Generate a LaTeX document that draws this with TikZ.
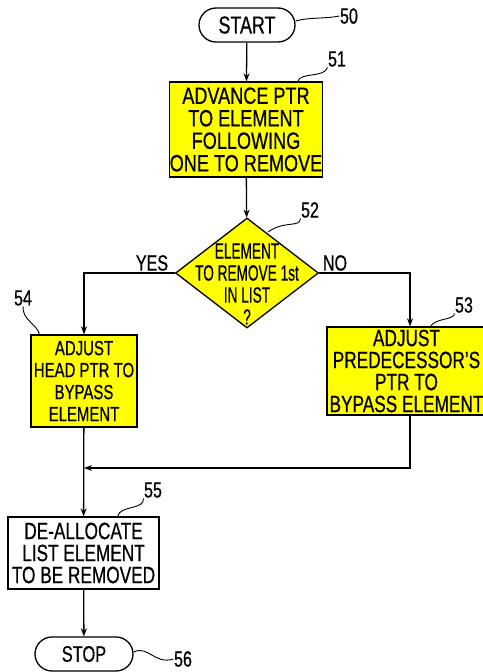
\documentclass[tikz,border=0pt]{standalone}
\usepackage{fontspec}
\setmainfont{Liberation Sans}[FakeStretch=0.73,FakeBold=0.6]
\newfontfamily\diafont{Liberation Sans}[FakeStretch=0.62,FakeBold=0.6]
\newfontfamily\widefont{Liberation Sans}[FakeStretch=0.77,FakeBold=0.6]
\usepackage{tikz}
\usetikzlibrary{arrows.meta,shapes.geometric,shapes.misc}
\definecolor{hilite}{HTML}{FFFF00}
\newcommand\flowsize[1]{\fontsize{#1}{22}\selectfont}

\begin{document}
\begin{tikzpicture}[x=1pt,y=-1pt,line width=1.3pt,>={Stealth[length=8pt,width=6pt]},
  term/.style={draw,rounded rectangle,inner sep=0pt,minimum height=34pt,font=\flowsize{24.5}},
  box/.style={draw,rectangle,inner sep=0pt,align=center,font=\flowsize{23.6}},
  tag/.style={inner sep=0pt,font=\flowsize{22}},
  lead/.style={line width=0.9pt}]
\useasboundingbox (0,0) rectangle (482,672);
\node[term,minimum width=96pt] (start) at (247,25) {START};
\node[box,fill=hilite,minimum width=152pt,minimum height=95pt,font=\widefont\fontsize{23.5}{22.5}\selectfont] (adv) at (246,129.5) {ADVANCE PTR\\TO ELEMENT\\FOLLOWING\\ONE TO REMOVE};
\node[draw,diamond,fill=hilite,minimum width=143pt,minimum height=110pt,inner sep=0pt] (dec) at (247,273) {};
\node[align=center,inner sep=0pt,font=\diafont\flowsize{22}] (dectext) at (247,284) {ELEMENT\\TO REMOVE 1st\\IN LIST\\?};
\node[box,fill=hilite,minimum width=106pt,minimum height=92pt,font=\flowsize{20.5}] (adjhead) at (84,381) {ADJUST\\HEAD PTR TO\\BYPASS\\ELEMENT};
\node[box,fill=hilite,minimum width=159pt,minimum height=88pt] (adjpred) at (406.5,371) {ADJUST\\PREDECESSOR'S\\PTR TO\\BYPASS ELEMENT};
\node[box,minimum width=151pt,minimum height=72pt] (dealloc) at (83.5,553) {DE-ALLOCATE\\LIST ELEMENT\\TO BE REMOVED};
\node[term,minimum width=98pt,font=\flowsize{22.5}] (stop) at (84,654) {STOP};
\coordinate (join) at (84,468);
\node[tag] (yes) at (152,263) {YES};
\node[tag] (no) at (335,263) {NO};
% reference numerals
\foreach \n/\x/\y in {50/349/16,51/337/59,52/310/210,53/464/305,54/23/298,55/153/490,56/183/659}
  \node[tag] (l\n) at (\x,\y) {\n};
% flow
\draw[->] (start) -- (adv);
\draw[->] (adv) -- (dec);
\draw[->] (dec.west) -| (adjhead.north);
\draw[->] (dec.east) -| ([xshift=3.5pt]adjpred.north);
\draw[->] (adjhead) -- (dealloc);
\draw[->] ([xshift=3.5pt]adjpred.south) |- (join);
\draw[->] (dealloc) -- (stop);
% leaders
\draw[lead] ([yshift=4pt]start.east) .. controls (310,17) and (325,19) .. (l50.west);
\draw[lead] ([xshift=-25pt]adv.north east) .. controls (300,72) and (325,78) .. (l51.south west);
\draw[lead] (268,232) .. controls (285,220) and (300,228) .. (l52.south west);
\draw[lead] ([xshift=-56pt]adjpred.north east) .. controls (435,318) and (455,320) .. (l53.south west);
\draw[lead] (l54.south) .. controls (22,320) and (38,325) .. ([xshift=9pt]adjhead.north west);
\draw[lead] ([xshift=-42pt]dealloc.north east) .. controls (120,505) and (145,510) .. (l55.south west);
\draw[lead] ([yshift=2pt]stop.east) .. controls (148,645) and (155,665) .. (l56.west);
\end{tikzpicture}
\end{document}
